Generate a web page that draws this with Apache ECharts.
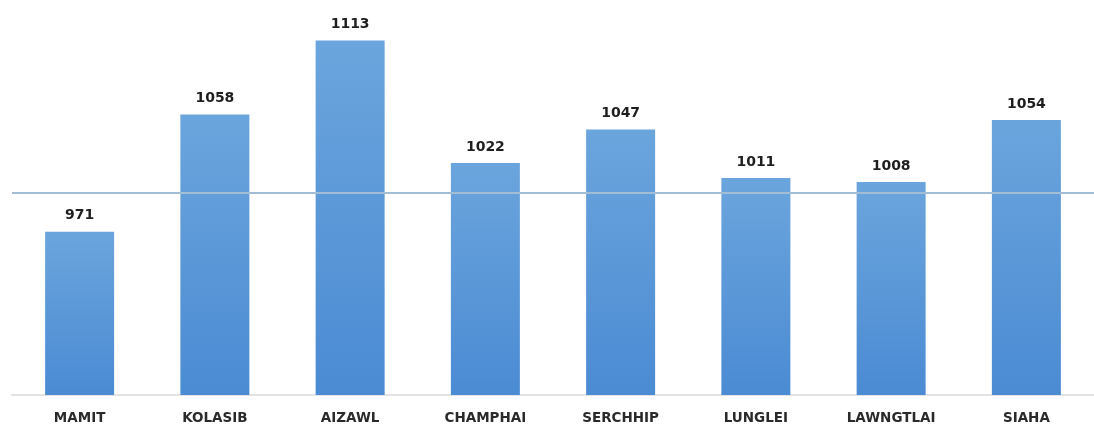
<!DOCTYPE html>
<html>
<head>
<meta charset="utf-8">
<script src="https://cdn.jsdelivr.net/npm/echarts@6/dist/echarts.min.js"></script>
<style>html,body{margin:0;padding:0;background:#fff;}#c{width:1094px;height:427px;}</style>
</head>
<body>
<div id="c"></div>
<script>
const categories = ['MAMIT','KOLASIB','AIZAWL','CHAMPHAI','SERCHHIP','LUNGLEI','LAWNGTLAI','SIAHA'];
const values = [971, 1058, 1113, 1022, 1047, 1011, 1008, 1054];
const referenceValue = 1000;

const chart = echarts.init(document.getElementById('c'));
chart.setOption({
  animation: false,
  grid: { left: 12, top: 4, width: 1090, height: 391 },
  xAxis: {
    type: 'category',
    data: categories,
    axisLine: { lineStyle: { color: '#e3e3e3', width: 2 } },
    axisTick: { show: false },
    axisLabel: { color: '#2a2a2a', fontFamily: 'DejaVu Sans', fontWeight: 'bold', fontSize: 13.5, margin: 16 }
  },
  yAxis: {
    type: 'value', min: 850, max: 1140,
    show: false, splitLine: { show: false }
  },
  series: [{
    type: 'bar',
    data: values,
    barWidth: 69,
    itemStyle: {
      color: new echarts.graphic.LinearGradient(0, 0, 0, 1, [
        { offset: 0, color: '#6ba5dd' },
        { offset: 1, color: '#4b8bd3' }
      ])
    },
    label: {
      show: true, position: 'top', distance: 9,
      color: '#1e1e1e', fontFamily: 'DejaVu Sans', fontWeight: 'bold', fontSize: 14
    },
    markLine: {
      silent: true, symbol: 'none',
      label: { show: false },
      lineStyle: { color: '#a2bdd4', width: 2, type: 'solid' },
      data: [{ yAxis: referenceValue }]
    }
  }]
});
</script>
</body>
</html>
